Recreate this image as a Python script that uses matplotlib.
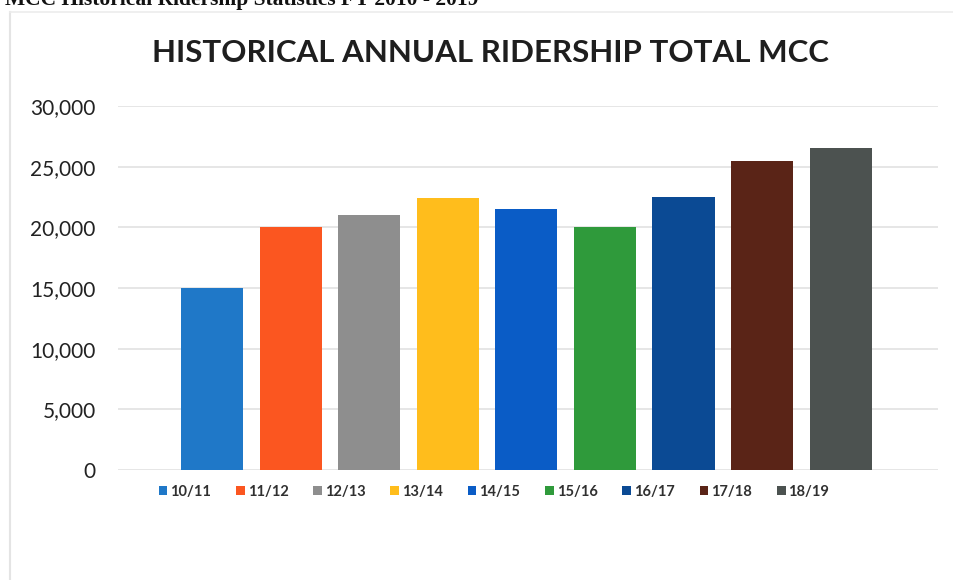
import matplotlib
matplotlib.use('Agg')
import matplotlib.pyplot as plt
from matplotlib.lines import Line2D
from matplotlib.ticker import FuncFormatter

# annual ridership totals by fiscal year
years = ['10/11', '11/12', '12/13', '13/14', '14/15', '15/16', '16/17', '17/18', '18/19']
riders = [15000, 20000, 21000, 22400, 21500, 20000, 22500, 25500, 26500]
colors = ['#1f78c8', '#fb5620', '#8e8e8e', '#ffbd1c', '#0a5cc6',
          '#2f9a3b', '#0b4a94', '#5a2417', '#4c5250']

plt.rcParams['font.family'] = ['Lato', 'DejaVu Sans']

W, H = 954, 580
fig = plt.figure(figsize=(W / 100, H / 100), dpi=100)
fig.patch.set_facecolor('white')

# plot area in pixel terms
left, right, top, bottom = 118, 938, 106, 470
ax = fig.add_axes([left / W, 1 - bottom / H, (right - left) / W, (bottom - top) / H])

bars = []
for i, (yr, v, c) in enumerate(zip(years, riders, colors)):
    b = ax.bar(i, v, width=0.79, color=c, label=yr, zorder=3)
    bars.append(b)

ax.set_xlim(-1.2, 8 + 1.24)
ax.set_ylim(0, 30000)
ax.set_yticks(range(0, 30001, 5000))
ax.yaxis.set_major_formatter(FuncFormatter(lambda v, p: f'{int(v):,}'))
ax.tick_params(axis='y', length=0, pad=16, labelsize=15, labelcolor='#222222')
ax.set_xticks([])
ax.grid(axis='y', color='#e2e2e2', linewidth=1.2, zorder=0)
for s in ax.spines.values():
    s.set_visible(False)

fig.text(490 / W, 1 - 53 / H, 'HISTORICAL ANNUAL RIDERSHIP TOTAL MCC',
         ha='center', va='center', fontsize=22.5, fontweight='bold', color='#1e1e1e')

# page heading above the chart, mostly off the top edge
fig.text(5 / W, 1 - 5.5 / H, 'MCC Historical Ridership Statistics FY 2010 - 2019',
         ha='left', va='baseline', fontsize=15.5, fontweight='bold',
         family='Liberation Serif', color='#111111')

# faint chart frame
fig.add_artist(Line2D([10 / W, 10 / W], [0, 1 - 12 / H], color='#e4e4e4', lw=1.5))
fig.add_artist(Line2D([10 / W, 1], [1 - 12 / H, 1 - 12 / H], color='#ececec', lw=1.2))

leg = fig.legend(handles=[b[0] for b in bars], labels=years, ncol=9,
                 loc='center', bbox_to_anchor=(494 / W, 1 - 492 / H),
                 frameon=False, handlelength=0.6, handleheight=0.6,
                 handletextpad=0.2, columnspacing=1.7,
                 prop={'size': 10.5, 'weight': 'bold'})
for t in leg.get_texts():
    t.set_color('#303030')

fig.savefig('out.png', dpi=100, facecolor='white')
